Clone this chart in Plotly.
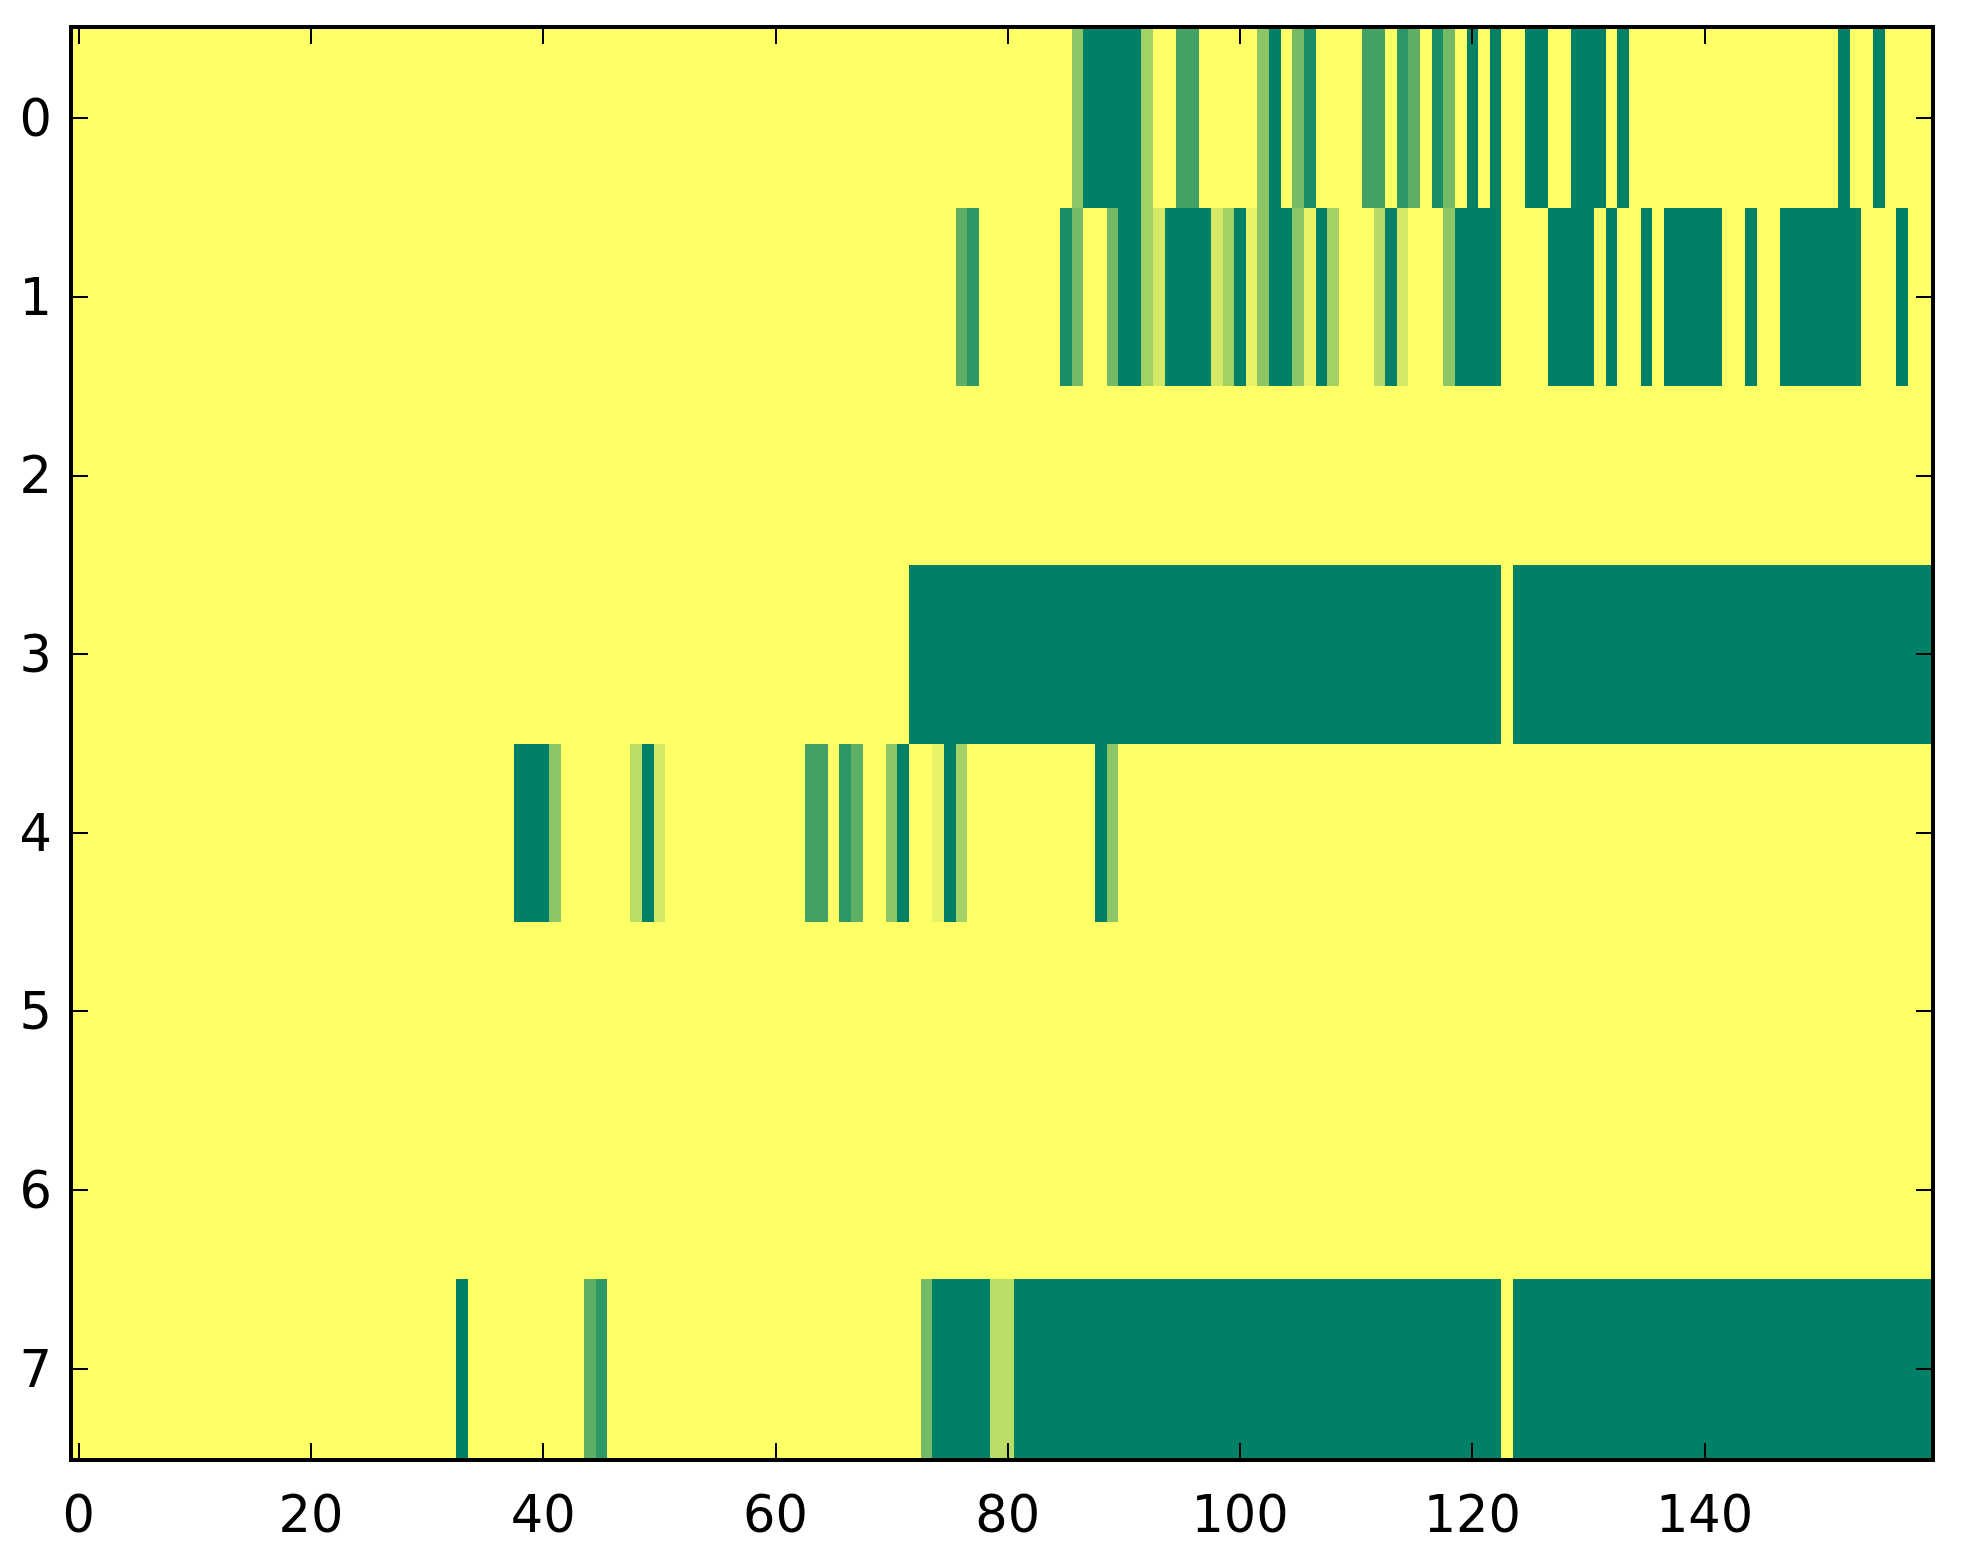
import plotly.graph_objects as go

# Cell values (0 = yellow, 1 = dark green, summer_r colormap), 160 columns per row
row_0 = [
    0, 0, 0, 0, 0, 0, 0, 0, 0, 0, 0, 0, 0, 0, 0, 0, 0, 0, 0, 0,
    0, 0, 0, 0, 0, 0, 0, 0, 0, 0, 0, 0, 0, 0, 0, 0, 0, 0, 0, 0,
    0, 0, 0, 0, 0, 0, 0, 0, 0, 0, 0, 0, 0, 0, 0, 0, 0, 0, 0, 0,
    0, 0, 0, 0, 0, 0, 0, 0, 0, 0, 0, 0, 0, 0, 0, 0, 0, 0, 0, 0,
    0, 0, 0, 0, 0, 0, 0.45, 1, 1, 1, 1, 1, 0.36, 0, 0, 0.73, 0.73, 0, 0, 0,
    0, 0, 0.45, 1, 0, 0.54, 0.9, 0, 0, 0, 0, 0.73, 0.73, 0, 0.82, 0.63, 0, 0.9, 0.54, 0,
    1, 0, 1, 0, 0, 1, 1, 0, 0, 1, 1, 1, 0, 1, 0, 0, 0, 0, 0, 0,
    0, 0, 0, 0, 0, 0, 0, 0, 0, 0, 0, 0, 1, 0, 0, 1, 0, 0, 0, 0,
]
row_1 = [
    0, 0, 0, 0, 0, 0, 0, 0, 0, 0, 0, 0, 0, 0, 0, 0, 0, 0, 0, 0,
    0, 0, 0, 0, 0, 0, 0, 0, 0, 0, 0, 0, 0, 0, 0, 0, 0, 0, 0, 0,
    0, 0, 0, 0, 0, 0, 0, 0, 0, 0, 0, 0, 0, 0, 0, 0, 0, 0, 0, 0,
    0, 0, 0, 0, 0, 0, 0, 0, 0, 0, 0, 0, 0, 0, 0, 0, 0.63, 0.82, 0, 0,
    0, 0, 0, 0, 0, 0.9, 0.54, 0, 0, 0.54, 1, 1, 0.36, 0.17, 1, 1, 1, 1, 0.17, 0.36,
    1, 0.09, 0.45, 1, 1, 0.45, 0.09, 1, 0.36, 0, 0, 0, 0.29, 1, 0.17, 0, 0, 0, 0.45, 1,
    1, 1, 1, 0, 0, 0, 0, 1, 1, 1, 1, 0, 1, 0, 0, 1, 0, 1, 1, 1,
    1, 1, 0, 0, 1, 0, 0, 1, 1, 1, 1, 1, 1, 1, 0, 0, 0, 1, 0, 0,
]
row_2 = [
    0, 0, 0, 0, 0, 0, 0, 0, 0, 0, 0, 0, 0, 0, 0, 0, 0, 0, 0, 0,
    0, 0, 0, 0, 0, 0, 0, 0, 0, 0, 0, 0, 0, 0, 0, 0, 0, 0, 0, 0,
    0, 0, 0, 0, 0, 0, 0, 0, 0, 0, 0, 0, 0, 0, 0, 0, 0, 0, 0, 0,
    0, 0, 0, 0, 0, 0, 0, 0, 0, 0, 0, 0, 0, 0, 0, 0, 0, 0, 0, 0,
    0, 0, 0, 0, 0, 0, 0, 0, 0, 0, 0, 0, 0, 0, 0, 0, 0, 0, 0, 0,
    0, 0, 0, 0, 0, 0, 0, 0, 0, 0, 0, 0, 0, 0, 0, 0, 0, 0, 0, 0,
    0, 0, 0, 0, 0, 0, 0, 0, 0, 0, 0, 0, 0, 0, 0, 0, 0, 0, 0, 0,
    0, 0, 0, 0, 0, 0, 0, 0, 0, 0, 0, 0, 0, 0, 0, 0, 0, 0, 0, 0,
]
row_3 = [
    0, 0, 0, 0, 0, 0, 0, 0, 0, 0, 0, 0, 0, 0, 0, 0, 0, 0, 0, 0,
    0, 0, 0, 0, 0, 0, 0, 0, 0, 0, 0, 0, 0, 0, 0, 0, 0, 0, 0, 0,
    0, 0, 0, 0, 0, 0, 0, 0, 0, 0, 0, 0, 0, 0, 0, 0, 0, 0, 0, 0,
    0, 0, 0, 0, 0, 0, 0, 0, 0, 0, 0, 0, 1, 1, 1, 1, 1, 1, 1, 1,
    1, 1, 1, 1, 1, 1, 1, 1, 1, 1, 1, 1, 1, 1, 1, 1, 1, 1, 1, 1,
    1, 1, 1, 1, 1, 1, 1, 1, 1, 1, 1, 1, 1, 1, 1, 1, 1, 1, 1, 1,
    1, 1, 1, 0, 1, 1, 1, 1, 1, 1, 1, 1, 1, 1, 1, 1, 1, 1, 1, 1,
    1, 1, 1, 1, 1, 1, 1, 1, 1, 1, 1, 1, 1, 1, 1, 1, 1, 1, 1, 1,
]
row_4 = [
    0, 0, 0, 0, 0, 0, 0, 0, 0, 0, 0, 0, 0, 0, 0, 0, 0, 0, 0, 0,
    0, 0, 0, 0, 0, 0, 0, 0, 0, 0, 0, 0, 0, 0, 0, 0, 0, 0, 1, 1,
    1, 0.45, 0, 0, 0, 0, 0, 0, 0.27, 1, 0.17, 0, 0, 0, 0, 0, 0, 0, 0, 0,
    0, 0, 0, 0.73, 0.73, 0, 0.82, 0.63, 0, 0, 0.45, 1, 0, 0, 0.09, 1, 0.36, 0, 0, 0,
    0, 0, 0, 0, 0, 0, 0, 0, 1, 0.45, 0, 0, 0, 0, 0, 0, 0, 0, 0, 0,
    0, 0, 0, 0, 0, 0, 0, 0, 0, 0, 0, 0, 0, 0, 0, 0, 0, 0, 0, 0,
    0, 0, 0, 0, 0, 0, 0, 0, 0, 0, 0, 0, 0, 0, 0, 0, 0, 0, 0, 0,
    0, 0, 0, 0, 0, 0, 0, 0, 0, 0, 0, 0, 0, 0, 0, 0, 0, 0, 0, 0,
]
row_5 = [
    0, 0, 0, 0, 0, 0, 0, 0, 0, 0, 0, 0, 0, 0, 0, 0, 0, 0, 0, 0,
    0, 0, 0, 0, 0, 0, 0, 0, 0, 0, 0, 0, 0, 0, 0, 0, 0, 0, 0, 0,
    0, 0, 0, 0, 0, 0, 0, 0, 0, 0, 0, 0, 0, 0, 0, 0, 0, 0, 0, 0,
    0, 0, 0, 0, 0, 0, 0, 0, 0, 0, 0, 0, 0, 0, 0, 0, 0, 0, 0, 0,
    0, 0, 0, 0, 0, 0, 0, 0, 0, 0, 0, 0, 0, 0, 0, 0, 0, 0, 0, 0,
    0, 0, 0, 0, 0, 0, 0, 0, 0, 0, 0, 0, 0, 0, 0, 0, 0, 0, 0, 0,
    0, 0, 0, 0, 0, 0, 0, 0, 0, 0, 0, 0, 0, 0, 0, 0, 0, 0, 0, 0,
    0, 0, 0, 0, 0, 0, 0, 0, 0, 0, 0, 0, 0, 0, 0, 0, 0, 0, 0, 0,
]
row_6 = [
    0, 0, 0, 0, 0, 0, 0, 0, 0, 0, 0, 0, 0, 0, 0, 0, 0, 0, 0, 0,
    0, 0, 0, 0, 0, 0, 0, 0, 0, 0, 0, 0, 0, 0, 0, 0, 0, 0, 0, 0,
    0, 0, 0, 0, 0, 0, 0, 0, 0, 0, 0, 0, 0, 0, 0, 0, 0, 0, 0, 0,
    0, 0, 0, 0, 0, 0, 0, 0, 0, 0, 0, 0, 0, 0, 0, 0, 0, 0, 0, 0,
    0, 0, 0, 0, 0, 0, 0, 0, 0, 0, 0, 0, 0, 0, 0, 0, 0, 0, 0, 0,
    0, 0, 0, 0, 0, 0, 0, 0, 0, 0, 0, 0, 0, 0, 0, 0, 0, 0, 0, 0,
    0, 0, 0, 0, 0, 0, 0, 0, 0, 0, 0, 0, 0, 0, 0, 0, 0, 0, 0, 0,
    0, 0, 0, 0, 0, 0, 0, 0, 0, 0, 0, 0, 0, 0, 0, 0, 0, 0, 0, 0,
]
row_7 = [
    0, 0, 0, 0, 0, 0, 0, 0, 0, 0, 0, 0, 0, 0, 0, 0, 0, 0, 0, 0,
    0, 0, 0, 0, 0, 0, 0, 0, 0, 0, 0, 0, 0, 1, 0, 0, 0, 0, 0, 0,
    0, 0, 0, 0, 0.63, 0.82, 0, 0, 0, 0, 0, 0, 0, 0, 0, 0, 0, 0, 0, 0,
    0, 0, 0, 0, 0, 0, 0, 0, 0, 0, 0, 0, 0, 0.54, 1, 1, 1, 1, 1, 0.27,
    0.27, 1, 1, 1, 1, 1, 1, 1, 1, 1, 1, 1, 1, 1, 1, 1, 1, 1, 1, 1,
    1, 1, 1, 1, 1, 1, 1, 1, 1, 1, 1, 1, 1, 1, 1, 1, 1, 1, 1, 1,
    1, 1, 1, 0, 1, 1, 1, 1, 1, 1, 1, 1, 1, 1, 1, 1, 1, 1, 1, 1,
    1, 1, 1, 1, 1, 1, 1, 1, 1, 1, 1, 1, 1, 1, 1, 1, 1, 1, 1, 1,
]

columns = list(range(160))
rows = [0, 1, 2, 3, 4, 5, 6, 7]
x_tick_values = [0, 20, 40, 60, 80, 100, 120, 140]
y_tick_values = [0, 1, 2, 3, 4, 5, 6, 7]

z = [row_0, row_1, row_2, row_3, row_4, row_5, row_6, row_7]

# matplotlib "summer_r": yellow (0) -> dark green (1)
colorscale = [[0.0, "rgb(255,255,102)"], [1.0, "rgb(0,128,102)"]]

fig = go.Figure(
    go.Heatmap(
        z=z,
        x=columns,
        y=rows,
        colorscale=colorscale,
        zmin=0,
        zmax=1,
        showscale=False,
        hoverinfo="skip",
    )
)

axis_common = dict(
    showline=True,
    linewidth=3.5,
    linecolor="black",
    mirror="ticks",
    ticks="inside",
    ticklen=15,
    tickwidth=2,
    tickcolor="black",
    showgrid=False,
    zeroline=False,
    tickfont=dict(family="DejaVu Sans", size=51, color="black"),
)

fig.update_xaxes(
    range=[-0.5, 159.5],
    tickmode="array",
    tickvals=x_tick_values,
    ticktext=[str(v) for v in x_tick_values],
    ticklabelstandoff=9,
    **axis_common,
)
fig.update_yaxes(
    range=[7.5, -0.5],
    tickmode="array",
    tickvals=y_tick_values,
    ticktext=[str(v) for v in y_tick_values],
    ticklabelstandoff=7,
    **axis_common,
)

fig.update_layout(
    width=1947,
    height=1548,
    margin=dict(l=65, r=24, t=21, b=88, pad=0),
    paper_bgcolor="white",
    plot_bgcolor="white",
    showlegend=False,
)

fig.write_html("out.html")
